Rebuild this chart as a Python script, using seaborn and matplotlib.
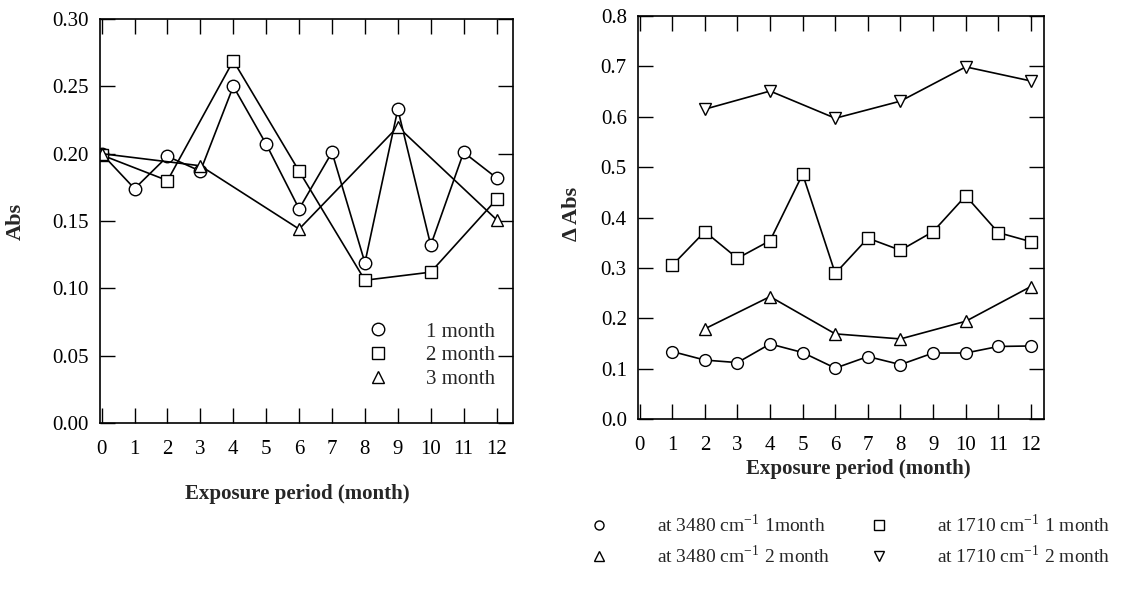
import matplotlib
matplotlib.use("Agg")
import numpy as np
import pandas as pd
import seaborn as sns
import matplotlib.pyplot as plt
from matplotlib.lines import Line2D
from matplotlib.ticker import FormatStrFormatter, MultipleLocator

# ---------------- data (left panel) ----------------
months_1m = [0, 1, 2, 3, 4, 5, 6, 7, 8, 9, 10, 11, 12]
abs_1m = [0.200, 0.174, 0.198, 0.187, 0.250, 0.207, 0.159, 0.201, 0.119, 0.233, 0.132, 0.201, 0.182]
months_2m = [0, 2, 4, 6, 8, 10, 12]
abs_2m = [0.199, 0.180, 0.269, 0.187, 0.106, 0.112, 0.166]
months_3m = [0, 3, 6, 9, 12]
abs_3m = [0.200, 0.191, 0.144, 0.220, 0.151]
left_labels = ["1 month", "2 month", "3 month"]

# ---------------- data (right panel) ----------------
months_a = [1, 2, 3, 4, 5, 6, 7, 8, 9, 10, 11, 12]
d3480_1m = [0.134, 0.117, 0.112, 0.149, 0.132, 0.101, 0.124, 0.108, 0.131, 0.131, 0.144, 0.145]
d1710_1m = [0.305, 0.372, 0.319, 0.354, 0.486, 0.289, 0.359, 0.335, 0.372, 0.443, 0.370, 0.352]
months_b = [2, 4, 6, 8, 10, 12]
d3480_2m = [0.179, 0.243, 0.169, 0.159, 0.194, 0.263]
d1710_2m = [0.615, 0.651, 0.597, 0.631, 0.699, 0.671]
right_labels = [r"at 3480 cm$^{\mathregular{-1}}$ 1month",
                r"at 1710 cm$^{\mathregular{-1}}$ 1 month",
                r"at 3480 cm$^{\mathregular{-1}}$ 2 month",
                r"at 1710 cm$^{\mathregular{-1}}$ 2 month"]

xticks = list(range(0, 13))

sns.set_style("ticks")
plt.rcParams["font.family"] = ["Liberation Serif", "DejaVu Serif"]
plt.rcParams["mathtext.fontset"] = "stix"
plt.rcParams["axes.linewidth"] = 1.2

left_df = pd.concat([
    pd.DataFrame({"month": months_1m, "val": abs_1m, "series": left_labels[0]}),
    pd.DataFrame({"month": months_2m, "val": abs_2m, "series": left_labels[1]}),
    pd.DataFrame({"month": months_3m, "val": abs_3m, "series": left_labels[2]}),
], ignore_index=True)

right_df = pd.concat([
    pd.DataFrame({"month": months_a, "val": d3480_1m, "series": right_labels[0]}),
    pd.DataFrame({"month": months_a, "val": d1710_1m, "series": right_labels[1]}),
    pd.DataFrame({"month": months_b, "val": d3480_2m, "series": right_labels[2]}),
    pd.DataFrame({"month": months_b, "val": d1710_2m, "series": right_labels[3]}),
], ignore_index=True)

fig = plt.figure(figsize=(11.24, 5.90), dpi=100)
ax1 = fig.add_axes([0.0890, 0.2831, 0.3674, 0.6847])
ax2 = fig.add_axes([0.5676, 0.2898, 0.3612, 0.6831])

left_markers = dict(zip(left_labels, ["o", "s", "^"]))
sns.lineplot(data=left_df, x="month", y="val", style="series", style_order=left_labels,
             markers=left_markers, dashes=False, color="black", errorbar=None,
             markersize=9, markerfacecolor="white", markeredgecolor="black",
             markeredgewidth=1.0, linewidth=1.2, legend=False, ax=ax1)

right_markers = dict(zip(right_labels, ["o", "s", "^", "v"]))
sns.lineplot(data=right_df, x="month", y="val", style="series", style_order=right_labels,
             markers=right_markers, dashes=False, color="black", errorbar=None,
             markersize=8.5, markerfacecolor="white", markeredgecolor="black",
             markeredgewidth=1.0, linewidth=1.2, legend=False, ax=ax2)

# ---- axes formatting ----
ax1.set_xlim(-0.05, 12.5)
ax1.set_ylim(0, 0.30)
ax1.set_xticks(xticks)
ax1.yaxis.set_major_locator(MultipleLocator(0.05))
ax1.yaxis.set_major_formatter(FormatStrFormatter("%.2f"))

ax2.set_xlim(-0.05, 12.4)
ax2.set_ylim(0, 0.8)
ax2.set_xticks(xticks)
ax2.yaxis.set_major_locator(MultipleLocator(0.1))
ax2.yaxis.set_major_formatter(FormatStrFormatter("%.1f"))

for ax in (ax1, ax2):
    for s in ax.spines.values():
        s.set_visible(True)
        s.set_color("black")
        s.set_linewidth(1.2)
    ax.tick_params(which="major", direction="in", length=11, width=1.0,
                   top=True, right=True, labelsize=15, colors="black")
    ax.tick_params(axis="y", pad=8)
    ax.tick_params(axis="x", pad=12)

ax1.set_xlabel("Exposure period (month)", fontsize=15, fontweight="bold")
ax1.set_ylabel("Abs", fontsize=16, fontweight="bold")
ax1.xaxis.set_label_coords(0.477, -0.150)
ax1.yaxis.set_label_coords(-0.180, 0.50)

ax2.set_xlabel("Exposure period (month)", fontsize=15, fontweight="bold")
ax2.set_ylabel("\u0394 Abs", fontsize=16, fontweight="bold")
ax2.xaxis.set_label_coords(0.542, -0.100)
ax2.yaxis.set_label_coords(-0.138, 0.51)

# ---- legends ----
def handle(m, ms):
    return Line2D([], [], marker=m, linestyle="none", markersize=ms,
                  markerfacecolor="white", markeredgecolor="black", markeredgewidth=1.0)

h1 = [handle(left_markers[l], 9) for l in left_labels]
ax1.legend(h1, left_labels, loc="upper left",
           bbox_to_anchor=(368 / 1124, 1 - 322 / 590), bbox_transform=fig.transFigure,
           frameon=False, borderpad=0, borderaxespad=0, handlelength=1.0,
           handletextpad=1.8, labelspacing=0.2, fontsize=15)

# legend fills column-wise: order so that rows read (1 month pair), (2 month pair)
right_order = [right_labels[0], right_labels[2], right_labels[1], right_labels[3]]
h2 = [handle(right_markers[l], 6.5) for l in right_order]
ax2.legend(h2, right_order, loc="upper left", ncol=2,
           bbox_to_anchor=(589 / 1124, 1 - 514 / 590), bbox_transform=fig.transFigure,
           frameon=False, borderpad=0, borderaxespad=0, handlelength=1.0,
           handletextpad=2.5, labelspacing=0.45, columnspacing=2.0, fontsize=14)

fig.savefig("out.png", dpi=100)
